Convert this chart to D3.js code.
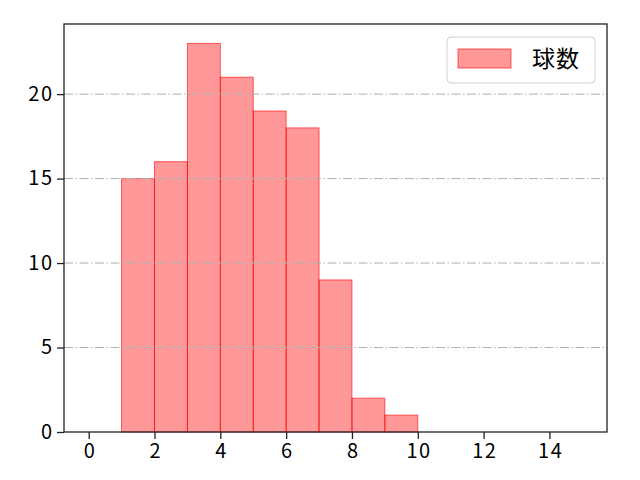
<!DOCTYPE html>
<html lang="ja">
<head>
<meta charset="UTF-8"/>
<title>球数</title>
<script src="https://d3js.org/d3.v7.min.js"></script>
<style>
	body { margin: 0; background: #fff; }
	text { font-family: "Noto Sans CJK JP", "DejaVu Sans", sans-serif; }
</style>
</head>
<body>
<script>
	// ***data***
	var binStart = [1, 2, 3, 4, 5, 6, 7, 8, 9];
	var counts = [15, 16, 23, 21, 19, 18, 9, 2, 1];
	var xTicks = [0, 2, 4, 6, 8, 10, 12, 14];
	var yTicks = [0, 5, 10, 15, 20];
	var seriesName = "球数";

	var w = 640, h = 480;
	var mLeft = 64, mRight = 607, mTop = 24, mBottom = 432;

	var xScale = d3.scaleLinear().domain([-0.75, 15.75]).range([mLeft, mRight]);
	var yScale = d3.scaleLinear().domain([0, 23 * 1.05]).range([mBottom, mTop]);

	var svg = d3.select("body").append("svg")
		.attr("width", w).attr("height", h);

	var data = binStart.map(function(d, i) { return [d, counts[i]]; });

	svg.selectAll("rect.bar")
		.data(data)
		.enter()
		.append("rect")
		.attr("class", "bar")
		.attr("x", function(d) { return xScale(d[0]); })
		.attr("y", function(d) { return yScale(d[1]); })
		.attr("width", function(d) { return xScale(d[0] + 1) - xScale(d[0]); })
		.attr("height", function(d) { return yScale(0) - yScale(d[1]); })
		.attr("fill", "#ff0000")
		.attr("fill-opacity", 0.4)
		.attr("stroke", "#ff0000")
		.attr("stroke-opacity", 0.6)
		.attr("stroke-width", 1);

	// grid (y only, dash-dot)
	svg.selectAll("line.grid")
		.data(yTicks.slice(1))
		.enter()
		.append("line")
		.attr("class", "grid")
		.attr("x1", mLeft).attr("x2", mRight)
		.attr("y1", function(d) { return yScale(d); })
		.attr("y2", function(d) { return yScale(d); })
		.attr("stroke", "#b0b0b0")
		.attr("stroke-width", 1)
		.attr("stroke-dasharray", "9,2.5,1.5,2.5");

	var xAxis = d3.axisBottom(xScale).tickValues(xTicks).tickSize(7).tickPadding(5);
	var yAxis = d3.axisLeft(yScale).tickValues(yTicks).tickSize(7).tickPadding(5);

	var gx = svg.append("g").attr("transform", "translate(0," + mBottom + ")").call(xAxis);
	var gy = svg.append("g").attr("transform", "translate(" + mLeft + ",0)").call(yAxis);
	[gx, gy].forEach(function(g) {
		g.select(".domain").remove();
		g.selectAll("line").attr("stroke", "#222").attr("stroke-width", 1.3);
		g.selectAll("text").attr("font-size", 20).attr("fill", "#000")
			.attr("letter-spacing", 1.5)
			.style("font-family", "'Noto Sans CJK JP', sans-serif");
	});
	gy.selectAll("text").attr("dx", 1.5);
	gx.selectAll("text").attr("dx", 0.75);

	svg.append("rect")
		.attr("x", mLeft).attr("y", mTop)
		.attr("width", mRight - mLeft).attr("height", mBottom - mTop)
		.attr("fill", "none").attr("stroke", "#222").attr("stroke-width", 1.3);

	// legend
	var lg = svg.append("g");
	lg.append("rect")
		.attr("x", 447).attr("y", 37).attr("width", 148).attr("height", 46)
		.attr("rx", 4).attr("fill", "#fff").attr("fill-opacity", 0.8)
		.attr("stroke", "#d0d0d0").attr("stroke-width", 1);
	lg.append("rect")
		.attr("x", 458).attr("y", 49).attr("width", 53).attr("height", 19)
		.attr("fill", "#ff0000").attr("fill-opacity", 0.4)
		.attr("stroke", "#ff0000").attr("stroke-opacity", 0.6);
	lg.append("text")
		.attr("x", 532).attr("y", 67)
		.attr("font-size", 23)
		.attr("letter-spacing", 1)
		.text(seriesName);
</script>
</body>
</html>
